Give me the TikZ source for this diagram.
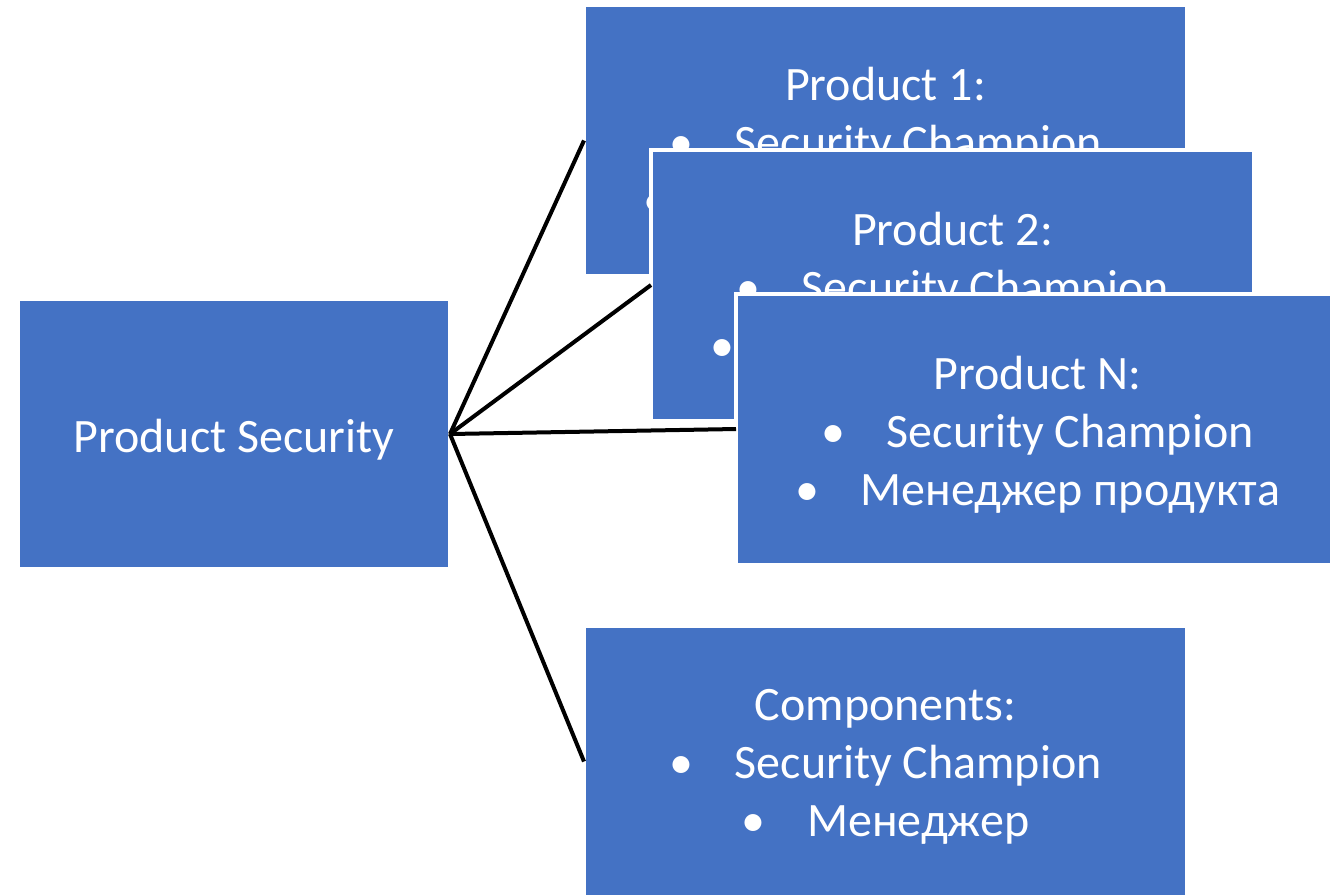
\documentclass[tikz,border=0pt]{standalone}
\usepackage{fontspec}
\setmainfont{Carlito}
\definecolor{boxblue}{HTML}{4472C4}
\newcommand{\bul}[1]{\makebox[1.37em][l]{•}#1}
\begin{document}
\begin{tikzpicture}[x=0.75pt,y=-0.75pt,
  box/.style={draw=white, line width=3pt, fill=boxblue, inner sep=0pt, outer sep=0pt},
  txt/.style={text=white, align=center, font=\fontsize{36}{43.5}\selectfont,
    inner sep=0pt, yshift=-4.2pt},
  bigbox/.style={box, minimum width=452.25pt, minimum height=203.25pt},
  conn/.style={line width=3pt, black}]
\useasboundingbox (0,0) rectangle (1330,894);
\fill[white] (0,0) rectangle (1330,894);
\node[box, minimum width=324pt, minimum height=202.5pt,
  label={[txt]center:Product Security}] (ps) at (234,434) {};
\node[bigbox, label={[txt]center:{Product 1:\\ \bul{Security Champion}\\ \bul{Менеджер продукта}}}] (p1) at (885.5,140.5) {};
\node[bigbox, label={[txt]center:{Product 2:\\ \bul{Security Champion}\\ \bul{Менеджер продукта}}}] (p2) at (952.5,285) {};
\node[bigbox, label={[txt]center:{Product N:\\ \bul{Security Champion}\\ \bul{Менеджер продукта}}}] (pn) at (1037.5,429) {};
\node[bigbox, label={[txt]center:{Components:\\ \bul{Security Champion}\\ \bul{Менеджер}}}] (cm) at (885.5,761.5) {};
\draw[conn] (ps.east) -- (p1.west);
\draw[conn] (ps.east) -- (p2.west);
\draw[conn] (ps.east) -- (pn.west);
\draw[conn] (ps.east) -- (cm.west);
\end{tikzpicture}
\end{document}
